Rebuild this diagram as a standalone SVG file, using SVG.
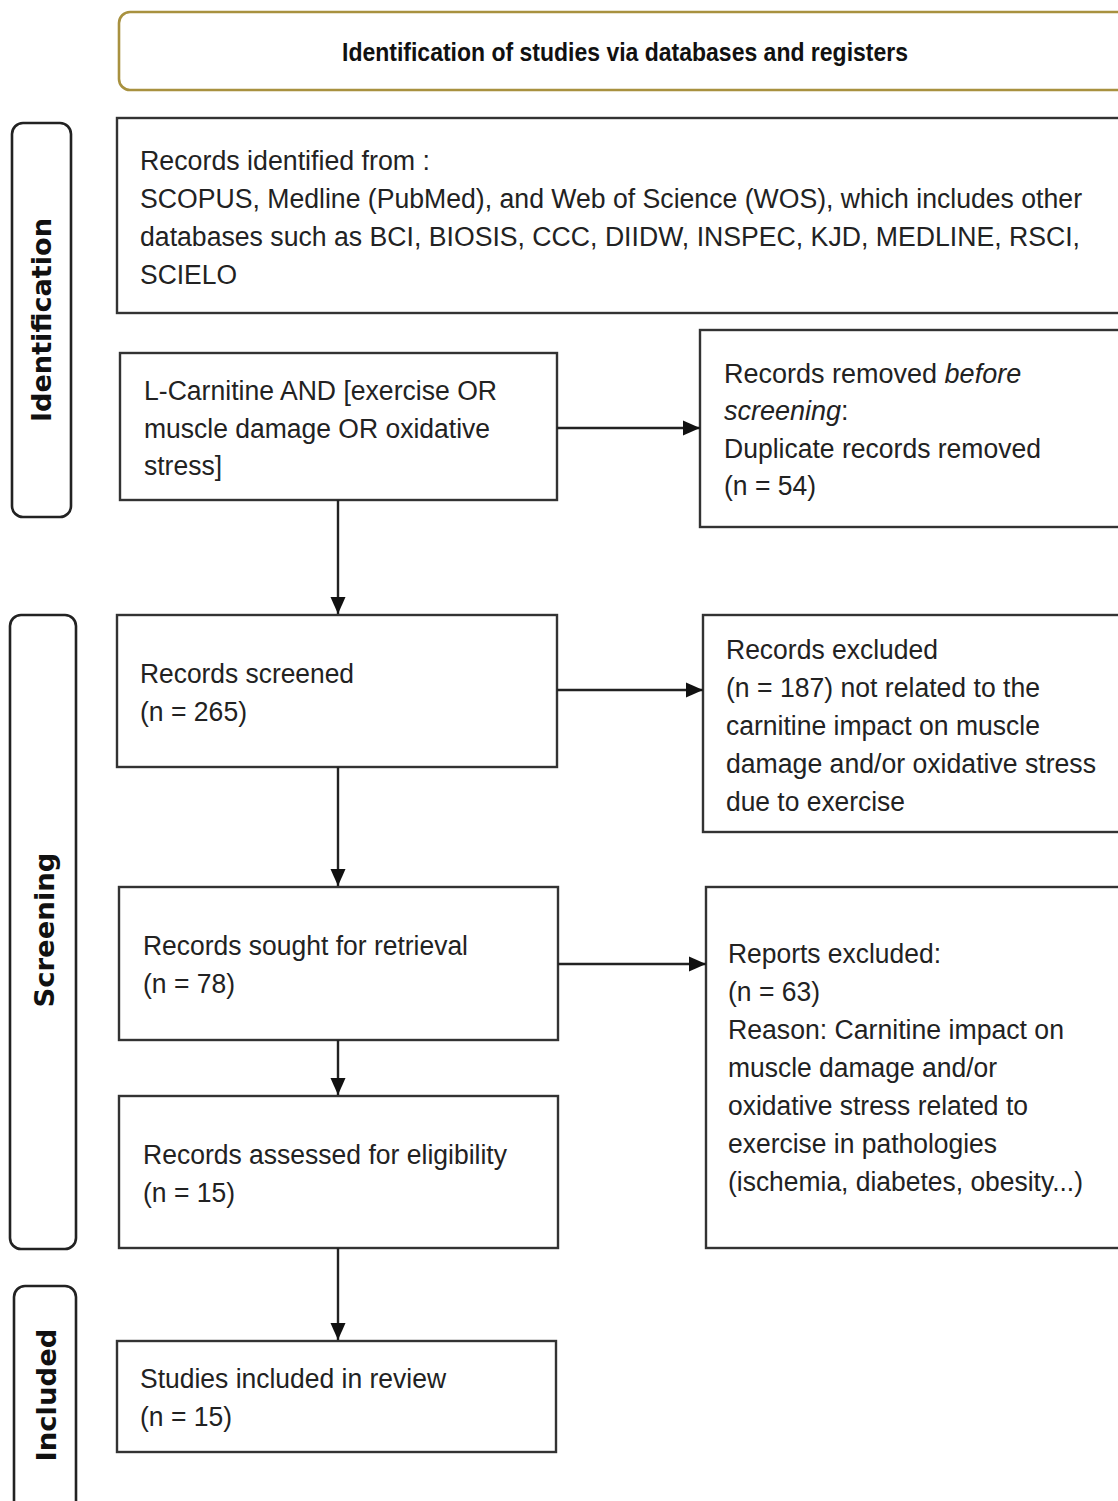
<svg xmlns="http://www.w3.org/2000/svg" width="1118" height="1501" viewBox="0 0 1118 1501">
<style>
.box{fill:#fff;stroke:#333;stroke-width:2.4}
.side{fill:#fff;stroke:#222;stroke-width:2.6}
.hdr{fill:#fff;stroke:#a8913f;stroke-width:2.6}
.t{font-family:"Liberation Sans",Arial,sans-serif;font-size:27px;fill:#222}
.it{font-style:italic}
.st{font-family:"DejaVu Sans",Verdana,sans-serif;font-weight:bold;font-size:27px;fill:#111}
.ht{font-family:"Liberation Sans",Arial,sans-serif;font-weight:bold;font-size:26px;fill:#111}
.c{stroke:#222;stroke-width:2.4;fill:none}
</style>
<defs>
<marker id="ah" markerUnits="userSpaceOnUse" markerWidth="18" markerHeight="16" refX="17" refY="8" orient="auto">
<path d="M0,0.5 L17,8 L0,15.5 z" fill="#111"/>
</marker>
</defs>
<rect width="1118" height="1501" fill="#fff"/>

<g id="header">
<rect class="hdr" x="119" y="12" width="1030" height="78" rx="11"/>
<text class="ht" x="342" y="61" textLength="566" lengthAdjust="spacingAndGlyphs">Identification of studies via databases and registers</text>
</g>

<g id="phase-identification">
<rect class="side" x="12" y="123" width="59" height="394" rx="11"/>
<text class="st" x="51" y="320" text-anchor="middle" transform="rotate(-90 51 320)" textLength="204" lengthAdjust="spacingAndGlyphs">Identification</text>
</g>
<g id="phase-screening">
<rect class="side" x="10" y="615" width="66" height="634" rx="11"/>
<text class="st" x="54" y="930" text-anchor="middle" transform="rotate(-90 54 930)" textLength="155" lengthAdjust="spacingAndGlyphs">Screening</text>
</g>
<g id="phase-included">
<rect class="side" x="14" y="1286" width="62" height="240" rx="11"/>
<text class="st" x="56" y="1395" text-anchor="middle" transform="rotate(-90 56 1395)" textLength="133" lengthAdjust="spacingAndGlyphs">Included</text>
</g>

<g id="records-identified">
<rect class="box" x="117" y="118" width="1030" height="195"/>
<text class="t" x="140" y="170" textLength="290" lengthAdjust="spacingAndGlyphs">Records identified from :</text>
<text class="t" x="140" y="208" textLength="942" lengthAdjust="spacingAndGlyphs">SCOPUS, Medline (PubMed), and Web of Science (WOS), which includes other</text>
<text class="t" x="140" y="246" textLength="940" lengthAdjust="spacingAndGlyphs">databases such as BCI, BIOSIS, CCC, DIIDW, INSPEC, KJD, MEDLINE, RSCI,</text>
<text class="t" x="140" y="284" textLength="97" lengthAdjust="spacingAndGlyphs">SCIELO</text>
</g>

<g id="search-query">
<rect class="box" x="120" y="353" width="437" height="147"/>
<text class="t" x="144" y="400" textLength="353" lengthAdjust="spacingAndGlyphs">L-Carnitine AND [exercise OR</text>
<text class="t" x="144" y="438" textLength="346" lengthAdjust="spacingAndGlyphs">muscle damage OR oxidative</text>
<text class="t" x="144" y="475" textLength="78" lengthAdjust="spacingAndGlyphs">stress]</text>
</g>

<g id="records-removed">
<rect class="box" x="700" y="330" width="440" height="197"/>
<text class="t" x="724" y="383">Records removed <tspan class="it">before</tspan></text>
<text class="t" x="724" y="420"><tspan class="it">screening</tspan>:</text>
<text class="t" x="724" y="458" textLength="317" lengthAdjust="spacingAndGlyphs">Duplicate records removed</text>
<text class="t" x="724" y="495" textLength="92" lengthAdjust="spacingAndGlyphs">(n = 54)</text>
</g>

<g id="records-screened">
<rect class="box" x="117" y="615" width="440" height="152"/>
<text class="t" x="140" y="683" textLength="214" lengthAdjust="spacingAndGlyphs">Records screened</text>
<text class="t" x="140" y="721" textLength="107" lengthAdjust="spacingAndGlyphs">(n = 265)</text>
</g>

<g id="records-excluded">
<rect class="box" x="703" y="615" width="440" height="217"/>
<text class="t" x="726" y="659" textLength="212" lengthAdjust="spacingAndGlyphs">Records excluded</text>
<text class="t" x="726" y="697" textLength="314" lengthAdjust="spacingAndGlyphs">(n = 187) not related to the</text>
<text class="t" x="726" y="735" textLength="314" lengthAdjust="spacingAndGlyphs">carnitine impact on muscle</text>
<text class="t" x="726" y="773" textLength="370" lengthAdjust="spacingAndGlyphs">damage and/or oxidative stress</text>
<text class="t" x="726" y="811" textLength="179" lengthAdjust="spacingAndGlyphs">due to exercise</text>
</g>

<g id="records-sought">
<rect class="box" x="119" y="887" width="439" height="153"/>
<text class="t" x="143" y="955" textLength="325" lengthAdjust="spacingAndGlyphs">Records sought for retrieval</text>
<text class="t" x="143" y="993" textLength="92" lengthAdjust="spacingAndGlyphs">(n = 78)</text>
</g>

<g id="reports-excluded">
<rect class="box" x="706" y="887" width="440" height="361"/>
<text class="t" x="728" y="963" textLength="213" lengthAdjust="spacingAndGlyphs">Reports excluded:</text>
<text class="t" x="728" y="1001" textLength="92" lengthAdjust="spacingAndGlyphs">(n = 63)</text>
<text class="t" x="728" y="1039" textLength="336" lengthAdjust="spacingAndGlyphs">Reason: Carnitine impact on</text>
<text class="t" x="728" y="1077" textLength="269" lengthAdjust="spacingAndGlyphs">muscle damage and/or</text>
<text class="t" x="728" y="1115" textLength="300" lengthAdjust="spacingAndGlyphs">oxidative stress related to</text>
<text class="t" x="728" y="1153" textLength="269" lengthAdjust="spacingAndGlyphs">exercise in pathologies</text>
<text class="t" x="728" y="1191" textLength="355" lengthAdjust="spacingAndGlyphs">(ischemia, diabetes, obesity...)</text>
</g>

<g id="records-assessed">
<rect class="box" x="119" y="1096" width="439" height="152"/>
<text class="t" x="143" y="1164" textLength="364" lengthAdjust="spacingAndGlyphs">Records assessed for eligibility</text>
<text class="t" x="143" y="1202" textLength="92" lengthAdjust="spacingAndGlyphs">(n = 15)</text>
</g>

<g id="studies-included">
<rect class="box" x="117" y="1341" width="439" height="111"/>
<text class="t" x="140" y="1388" textLength="306" lengthAdjust="spacingAndGlyphs">Studies included in review</text>
<text class="t" x="140" y="1426" textLength="92" lengthAdjust="spacingAndGlyphs">(n = 15)</text>
</g>

<g id="connectors">
<line class="c" x1="557" y1="428" x2="700" y2="428" marker-end="url(#ah)"/>
<line class="c" x1="338" y1="500" x2="338" y2="614" marker-end="url(#ah)"/>
<line class="c" x1="557" y1="690" x2="703" y2="690" marker-end="url(#ah)"/>
<line class="c" x1="338" y1="767" x2="338" y2="886" marker-end="url(#ah)"/>
<line class="c" x1="558" y1="964" x2="706" y2="964" marker-end="url(#ah)"/>
<line class="c" x1="338" y1="1040" x2="338" y2="1095" marker-end="url(#ah)"/>
<line class="c" x1="338" y1="1248" x2="338" y2="1340" marker-end="url(#ah)"/>
</g>
</svg>
